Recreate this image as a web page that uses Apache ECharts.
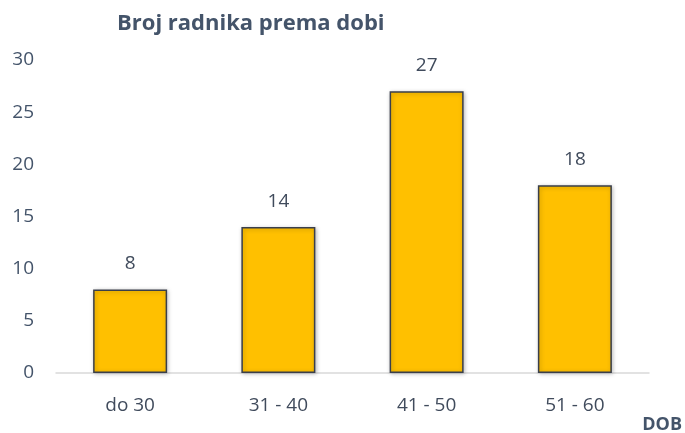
<!DOCTYPE html>
<html>
<head>
<meta charset="utf-8">
<script src="https://cdn.jsdelivr.net/npm/echarts@6/dist/echarts.min.js"></script>
<style>
  html, body { margin: 0; padding: 0; background: #fff; }
  #chart { width: 685px; height: 433px; }
</style>
</head>
<body>
<div id="chart"></div>
<script>
  const categories = ['do 30', '31 - 40', '41 - 50', '51 - 60']
  const workers = [8, 14, 27, 18]
  const yTicks = [0, 5, 10, 15, 20, 25, 30]

  const font = '"Open Sans", "Noto Sans", sans-serif'
  const textColor = '#44546A'
  const labelColor = '#404B5C'

  let chart = echarts.init(document.getElementById('chart'))
  const option = {
    animation: false,
    title: [{
      text: 'Broj radnika prema dobi',
      left: 112,
      top: 8,
      textStyle: { fontFamily: font, fontSize: 22, fontWeight: 'bold', color: textColor }
    }, {
      text: 'DOB',
      right: -2,
      bottom: -6,
      textStyle: { fontFamily: font, fontSize: 18, fontWeight: 'bold', color: textColor }
    }],
    grid: { left: 56, right: 36, top: 60, bottom: 60 },
    xAxis: {
      type: 'category',
      data: categories,
      axisLine: { lineStyle: { color: '#D9D9D9', width: 1.5 } },
      axisTick: { show: false },
      axisLabel: { fontFamily: font, fontSize: 19, color: labelColor, margin: 23 }
    },
    yAxis: {
      type: 'value',
      min: yTicks[0],
      max: yTicks[yTicks.length - 1],
      interval: 5,
      splitLine: { show: false },
      axisLine: { show: false },
      axisTick: { show: false },
      axisLabel: { fontFamily: font, fontSize: 19, color: textColor, margin: 22 }
    },
    series: [{
      type: 'bar',
      data: workers,
      barWidth: 74,
      itemStyle: {
        color: '#FFC000',
        borderColor: '#3A3F4B',
        borderWidth: 1.5,
        shadowColor: 'rgba(0,0,0,0.25)',
        shadowBlur: 4,
        shadowOffsetX: 1,
        shadowOffsetY: 1
      },
      label: {
        show: true,
        position: 'top',
        distance: 16,
        fontFamily: font,
        fontSize: 19,
        color: labelColor
      }
    }]
  }
  chart.setOption(option)
</script>
</body>
</html>
